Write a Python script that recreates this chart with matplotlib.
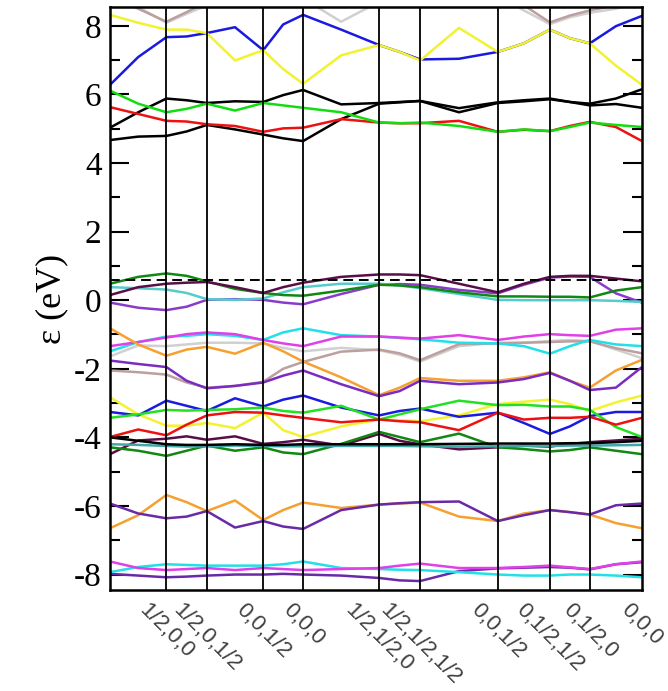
import numpy as np
import matplotlib.pyplot as plt
from matplotlib.ticker import MultipleLocator

plt.rcParams['axes.unicode_minus'] = False

# k-path sample points (fraction of path length): high-symmetry nodes and midpoints
kpath = [0.0, 0.053, 0.106, 0.144, 0.182, 0.235, 0.288, 0.3255, 0.363, 0.4345, 0.506,
         0.5445, 0.583, 0.656, 0.729, 0.778, 0.827, 0.8645, 0.902, 0.951, 1.0]
nodes = [0.106, 0.182, 0.288, 0.363, 0.506, 0.583, 0.729, 0.827, 0.902]
label_pos = [0.106, 0.182, 0.288, 0.363, 0.506, 0.583, 0.729, 0.827, 0.902, 1.0]
node_labels = ['1/2,0,0', '1/2,0,1/2', '0,0,1/2', '0,0,0', '1/2,1/2,0', '1/2,1/2,1/2',
               '0,0,1/2', '0,1/2,1/2', '0,1/2,0', '0,0,0']
e_fermi = 0.6

# band energies (eV) read at the kpath points
gray_top = [9.2, 8.55, 8.09, 8.35, 8.6, 8.9, 9.1, 9.0, 8.8, 8.12, 8.7, 9.0, 9.2, 9.2, 8.9, 8.45, 8.05, 8.25, 8.38, 8.5, 8.7]
brown_top = [8.9, 8.5, 8.12, 8.4, 8.7, 9.0, 9.2, 9.3, 9.3, 9.3, 9.2, 9.2, 9.2, 9.1, 8.9, 8.6, 8.1, 8.3, 8.45, 8.6, 8.8]
blue_top = [6.28, 7.09, 7.67, 7.69, 7.79, 7.96, 7.29, 8.04, 8.32, 7.89, 7.44, 7.24, 7.02, 7.04, 7.24, 7.49, 7.89, 7.64, 7.49, 7.99, 8.29]
yellow_top = [8.32, 8.09, 7.89, 7.89, 7.79, 6.99, 7.29, 6.74, 6.31, 7.14, 7.44, 7.24, 6.99, 7.94, 7.24, 7.49, 7.89, 7.64, 7.49, 6.84, 6.28]
green_up = [6.11, 5.73, 5.48, 5.58, 5.73, 5.53, 5.75, 5.68, 5.61, 5.48, 5.18, 5.16, 5.18, 5.08, 4.91, 4.98, 4.93, 5.05, 5.18, 5.11, 5.05]
red_up = [5.63, 5.43, 5.23, 5.21, 5.13, 5.08, 4.91, 5.01, 5.03, 5.28, 5.18, 5.16, 5.16, 5.23, 4.91, 4.97, 4.93, 5.08, 5.2, 5.05, 4.64]
black_a = [5.03, 5.48, 5.88, 5.83, 5.75, 5.8, 5.78, 5.98, 6.13, 5.71, 5.75, 5.78, 5.81, 5.6, 5.77, 5.83, 5.88, 5.78, 5.73, 5.88, 6.15]
black_b = [4.67, 4.77, 4.79, 4.92, 5.11, 4.98, 4.83, 4.72, 4.64, 5.28, 5.73, 5.77, 5.81, 5.48, 5.75, 5.8, 5.86, 5.78, 5.68, 5.72, 5.61]

violet_f = [-0.07, -0.22, -0.29, -0.19, 0.01, 0.03, 0.01, -0.07, -0.12, 0.18, 0.45, 0.47, 0.45, 0.3, 0.2, 0.45, 0.66, 0.69, 0.68, 0.2, -0.07]
turq_f = [0.38, 0.35, 0.31, 0.21, 0.03, 0.01, 0.05, 0.23, 0.38, 0.48, 0.48, 0.43, 0.35, 0.18, 0.01, 0.0, 0.0, 0.0, 0.0, -0.02, -0.05]
dkgreen_f = [0.48, 0.68, 0.78, 0.71, 0.55, 0.33, 0.21, 0.15, 0.13, 0.28, 0.45, 0.43, 0.38, 0.23, 0.11, 0.11, 0.10, 0.10, 0.08, 0.28, 0.38]
maroon_f = [0.15, 0.38, 0.48, 0.51, 0.53, 0.38, 0.21, 0.38, 0.51, 0.68, 0.75, 0.75, 0.73, 0.48, 0.23, 0.48, 0.68, 0.71, 0.71, 0.63, 0.55]

grey_m = [-1.64, -1.32, -1.34, -1.29, -1.24, -1.24, -1.26, -1.39, -1.49, -1.39, -1.46, -1.59, -1.79, -1.34, -1.24, -1.24, -1.19, -1.16, -1.19, -1.44, -1.69]
brown_m = [-2.05, -2.1, -2.17, -2.4, -2.55, -2.5, -2.38, -2.0, -1.8, -1.5, -1.44, -1.55, -1.75, -1.28, -1.26, -1.24, -1.22, -1.2, -1.2, -1.4, -1.55]
cyan_m = [-1.49, -1.22, -1.06, -1.04, -0.99, -1.04, -1.16, -0.94, -0.82, -1.02, -1.06, -1.1, -1.14, -1.24, -1.26, -1.34, -1.56, -1.34, -1.16, -1.29, -1.34]
magenta_m = [-1.34, -1.22, -1.09, -0.99, -0.94, -0.99, -1.16, -1.26, -1.34, -1.06, -1.06, -1.09, -1.12, -1.02, -1.16, -1.06, -0.99, -1.02, -1.04, -0.86, -0.82]
orange_m = [-0.82, -1.29, -1.62, -1.44, -1.36, -1.56, -1.24, -1.49, -1.79, -2.25, -2.77, -2.55, -2.27, -2.35, -2.35, -2.25, -2.1, -2.35, -2.55, -2.05, -1.74]
violet_m = [-1.76, -1.86, -1.95, -2.35, -2.57, -2.5, -2.4, -2.2, -2.05, -2.45, -2.8, -2.65, -2.35, -2.45, -2.4, -2.3, -2.12, -2.35, -2.62, -2.55, -1.95]

yellow_l = [-2.83, -3.33, -3.66, -3.66, -3.58, -3.73, -3.28, -3.79, -3.99, -3.68, -3.48, -3.5, -3.53, -3.36, -3.03, -2.96, -2.9, -3.03, -3.23, -2.98, -2.78]
blue_l = [-3.26, -3.36, -2.93, -3.08, -3.23, -2.86, -3.1, -2.9, -2.78, -3.13, -3.36, -3.23, -3.16, -3.4, -3.28, -3.58, -3.9, -3.68, -3.38, -3.26, -3.26]
green_l = [-3.43, -3.33, -3.2, -3.22, -3.2, -3.18, -3.13, -3.23, -3.28, -3.08, -3.48, -3.33, -3.18, -2.93, -3.06, -3.05, -3.1, -3.1, -3.2, -3.7, -3.99]
red_l = [-3.99, -3.77, -3.94, -3.63, -3.36, -3.26, -3.28, -3.36, -3.43, -3.56, -3.48, -3.53, -3.56, -3.79, -3.28, -3.48, -3.43, -3.43, -3.4, -3.63, -3.43]
maroon_l = [-4.49, -4.09, -4.04, -3.97, -4.07, -3.97, -4.19, -4.14, -4.07, -4.24, -3.9, -4.1, -4.2, -4.35, -4.29, -4.24, -4.27, -4.19, -4.14, -4.09, -4.04]
green4_l = [-4.29, -4.39, -4.54, -4.39, -4.24, -4.39, -4.29, -4.44, -4.49, -4.19, -3.84, -3.99, -4.14, -3.89, -4.29, -4.34, -4.41, -4.37, -4.29, -4.39, -4.49]
turq_l = [-4.2, -4.22, -4.25, -4.27, -4.26, -4.24, -4.25, -4.26, -4.26, -4.25, -4.25, -4.25, -4.26, -4.27, -4.26, -4.25, -4.25, -4.24, -4.24, -4.23, -4.22]
black_l = [-4.0, -4.1, -4.2, -4.22, -4.22, -4.2, -4.22, -4.22, -4.2, -4.2, -4.2, -4.2, -4.2, -4.19, -4.18, -4.18, -4.18, -4.17, -4.17, -4.14, -4.1]

orange_6 = [-6.65, -6.27, -5.68, -5.89, -6.15, -5.84, -6.41, -6.12, -5.9, -6.06, -5.96, -5.93, -5.9, -6.31, -6.44, -6.22, -6.12, -6.18, -6.25, -6.5, -6.65]
indigo_6 = [-5.93, -6.22, -6.36, -6.31, -6.15, -6.63, -6.44, -6.6, -6.67, -6.12, -5.96, -5.92, -5.89, -5.87, -6.44, -6.27, -6.12, -6.18, -6.25, -5.98, -5.93]

indigo_8 = [-7.98, -8.03, -8.08, -8.06, -8.03, -8.0, -8.0, -7.98, -8.0, -8.03, -8.1, -8.17, -8.19, -7.9, -7.82, -7.8, -7.78, -7.8, -7.85, -7.7, -7.64]
cyan_8 = [-7.93, -7.78, -7.7, -7.72, -7.74, -7.74, -7.74, -7.7, -7.62, -7.81, -7.84, -7.86, -7.87, -7.93, -8.0, -8.03, -8.03, -8.0, -8.0, -8.03, -8.08]
magenta_8 = [-7.62, -7.81, -7.87, -7.84, -7.81, -7.87, -7.81, -7.84, -7.87, -7.84, -7.81, -7.74, -7.68, -7.81, -7.81, -7.78, -7.74, -7.79, -7.84, -7.7, -7.62]

# xmgrace-like colours
bands = [
    (gray_top, '#d0d0d0'), (brown_top, '#bc9f9f'),
    (blue_top, '#1a1ae0'), (yellow_top, '#f2f230'),
    (black_a, '#000000'), (black_b, '#000000'), (red_up, '#ee1111'), (green_up, '#11dd11'),
    (violet_f, '#8a3cc8'), (turq_f, '#55cccc'), (dkgreen_f, '#118811'), (maroon_f, '#5a0e48'),
    (grey_m, '#d0d0d0'), (brown_m, '#bc9f9f'), (cyan_m, '#22e0e8'), (magenta_m, '#e040e8'),
    (orange_m, '#f5a030'), (violet_m, '#7a2cc0'),
    (yellow_l, '#f2f230'), (blue_l, '#1a1ae0'), (green_l, '#22e022'), (red_l, '#ee1111'),
    (maroon_l, '#5a0e48'), (green4_l, '#118811'), (turq_l, '#40a8a8'), (black_l, '#000000'),
    (orange_6, '#f5a030'), (indigo_6, '#6a2aa8'),
    (indigo_8, '#6a2aa8'), (cyan_8, '#22e0e8'), (magenta_8, '#e040e8'),
]

fig = plt.figure(figsize=(6.68, 6.91), dpi=100)
ax = fig.add_axes([0.1647, 0.1462, 0.7963, 0.8437])

for e, c in bands:
    ax.plot(kpath, e, color=c, lw=1.8, solid_joinstyle='round', solid_capstyle='round')

for xn in nodes:
    ax.axvline(xn, color='black', lw=1.3)
ax.axhline(e_fermi, color='black', lw=1.4, ls=(0, (5, 3)))

ax.set_xlim(0, 1)
ax.set_ylim(-8.45, 8.55)
ax.yaxis.set_major_locator(MultipleLocator(2))
ax.yaxis.set_minor_locator(MultipleLocator(1))
ax.tick_params(axis='y', which='both', direction='in', left=True, right=True, width=1.5)
ax.tick_params(axis='y', which='major', length=14, pad=6)
ax.tick_params(axis='y', which='minor', length=7)
for lab in ax.get_yticklabels():
    lab.set_fontfamily('Liberation Serif')
    lab.set_fontsize(24)

ax.set_xticks(label_pos)
ax.set_xticklabels(node_labels, rotation=-45, ha='center', fontsize=16,
                   fontfamily='Liberation Sans', color='#404040')
ax.tick_params(axis='x', length=0, pad=7)

ax.set_ylabel('ε (eV)', fontsize=26, fontfamily='Liberation Serif', labelpad=4)

for sp in ax.spines.values():
    sp.set_linewidth(1.8)

fig.savefig('out.png', dpi=100)
